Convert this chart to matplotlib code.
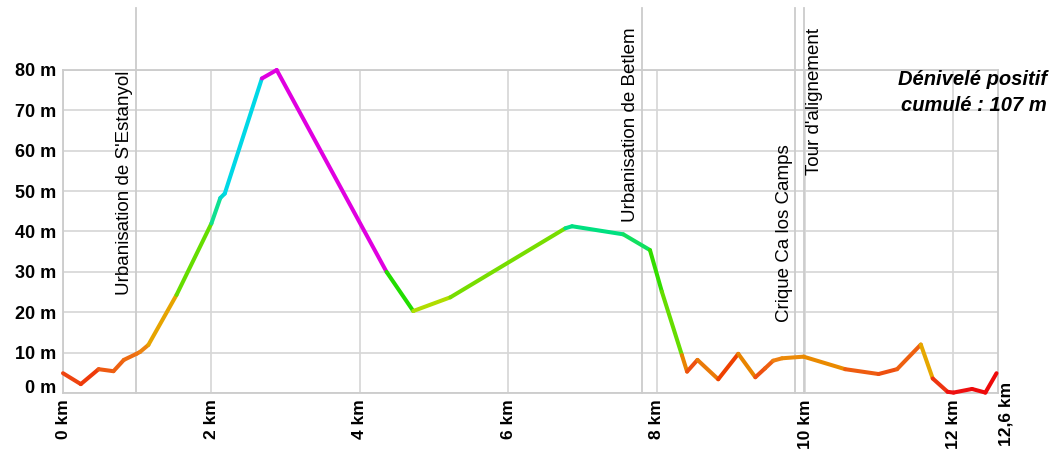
import matplotlib
matplotlib.use("Agg")
import matplotlib.pyplot as plt
from matplotlib.collections import LineCollection
import numpy as np

# ---- data ----
distance_km = [0.00, 0.24, 0.48, 0.68, 0.82, 0.99, 1.04, 1.15, 1.53, 2.00,
               2.12, 2.18, 2.68, 2.88, 4.36, 4.72, 5.22, 6.77, 6.86, 7.55,
               7.91, 8.07, 8.34, 8.41, 8.55, 8.83, 9.10, 9.33, 9.46, 9.57,
               9.69, 9.98, 10.54, 10.99, 11.24, 11.56, 11.72, 11.92, 12.00, 12.25,
               12.43, 12.58]
altitude_m = [4.9, 2.2, 5.9, 5.4, 8.2, 9.7, 10.2, 11.9, 24.3, 42.0,
              48.3, 49.4, 77.9, 80.0, 30.0, 20.3, 23.7, 40.8, 41.3, 39.3,
              35.4, 25.1, 9.4, 5.3, 8.2, 3.4, 9.7, 3.9, 6.1, 8.0,
              8.6, 9.0, 5.9, 4.7, 5.9, 12.0, 3.6, 0.3, 0.1, 1.0,
              0.1, 4.9]

y_ticks = [0, 10, 20, 30, 40, 50, 60, 70, 80]
y_tick_labels = ["0 m", "10 m", "20 m", "30 m", "40 m", "50 m", "60 m", "70 m", "80 m"]
x_ticks = [0, 2, 4, 6, 8, 10, 12]
x_tick_labels = ["0 km", "2 km", "4 km", "6 km", "8 km", "10 km", "12 km"]
end_km = 12.6
end_label = "12,6 km"

poi_km = [0.98, 7.80, 9.87, 9.99]
poi_names = ["Urbanisation de S'Estanyol", "Urbanisation de Betlem",
             "Crique Ca los Camps", "Tour d'alignement"]
summary_text = "Dénivelé positif\ncumulé : 107 m"

# ---- styles ----
segment_colors = [
    "#ee4410", "#ee3a0a", "#ee5a12", "#ee6212", "#ee6c12", "#ee7412", "#ec8410",
    "#e6a400", "#66dd00", "#10e090", "#00d8d0", "#00d8e6", "#e000e0", "#e000e0",
    "#22dd00", "#b0dd00", "#77dd00", "#00e08a", "#00e080", "#10e060", "#33dd00",
    "#66dd00", "#e88400", "#ee5010", "#ea7a08", "#ee4000", "#e88400", "#ee5010",
    "#ee6010", "#ee8010", "#ec8a08", "#ea8a00", "#ee5c10", "#ee5010", "#ee6010",
    "#e6a800", "#ee3410", "#ee1010", "#ee1010", "#ee0a0a", "#ee0a0a",
]
poi_text_y = [24.3, 42.3, 17.6, 54.0]
poi_side = ["left", "left", "left", "right"]
grid_color = "#d6d6d6"

plt.rcParams["font.family"] = ["Liberation Sans", "DejaVu Sans"]

fig = plt.figure(figsize=(10.61, 4.5), dpi=100)
ax = fig.add_axes([63 / 1061, 1 - 393 / 450, (998 - 63) / 1061, (393 - 70) / 450])
ax.set_xlim(0, end_km)
ax.set_ylim(0, 80)

pts = np.column_stack([distance_km, altitude_m])
segs = np.stack([pts[:-1], pts[1:]], axis=1)
lc = LineCollection(segs, colors=segment_colors, linewidths=2.9,
                    capstyle="round", joinstyle="round", zorder=4)
lc.set_clip_on(False)
ax.add_collection(lc)

ax.set_xticks(x_ticks)
ax.set_xticklabels(x_tick_labels, rotation=90, fontsize=12.5, fontweight="bold", va="top")
ax.set_yticks(y_ticks)
ax.set_yticklabels(y_tick_labels, fontsize=13, fontweight="bold")
ax.tick_params(axis="both", length=0, colors="black")
ax.tick_params(axis="x", pad=4.5)
ax.tick_params(axis="y", pad=5)
ax.yaxis.get_ticklabels()[0].set_va("baseline")
ax.grid(True, color=grid_color, lw=1.2, zorder=0)
ax.set_axisbelow(True)
for s in ax.spines.values():
    s.set_color("#cccccc")
    s.set_linewidth(1.3)

ax.annotate(end_label, xy=(end_km, -13.2), xytext=(6, 0), textcoords="offset points",
            rotation=90, ha="center", va="bottom", fontsize=12.5, fontweight="bold",
            annotation_clip=False)

for km, name, ty, side in zip(poi_km, poi_names, poi_text_y, poi_side):
    ax.plot([km, km], [0, 95.3], color="#cccccc", lw=1.3, clip_on=False, zorder=1)
    if side == "left":
        ax.annotate(name, xy=(km, ty), xytext=(-2, 0), textcoords="offset points",
                    rotation=90, ha="right", va="bottom", fontsize=13.5,
                    annotation_clip=False)
    else:
        ax.annotate(name, xy=(km, ty), xytext=(1.5, 0), textcoords="offset points",
                    rotation=90, ha="left", va="bottom", fontsize=13.5,
                    annotation_clip=False)

fig.text(1047 / 1061, 1 - 70 / 450, summary_text, ha="right", va="top",
         fontsize=14.5, fontweight="bold", style="italic", linespacing=1.45)

fig.savefig("out.png", dpi=100)
